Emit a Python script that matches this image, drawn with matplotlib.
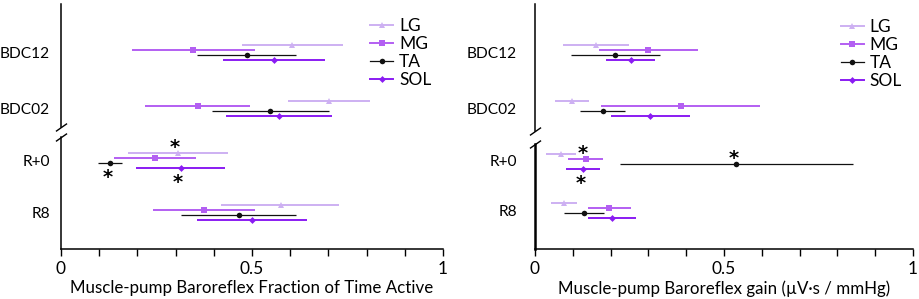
import matplotlib.pyplot as plt
from matplotlib.lines import Line2D

plt.rcParams['font.family'] = ['Lato', 'DejaVu Sans']

groups = ['BDC12', 'BDC02', 'R+0', 'R8']
series = ['LG', 'MG', 'TA', 'SOL']
colors = ['#cdb0f2', '#b35ff2', '#111111', '#8a1cf2']
markers = ['^', 's', 'o', 'D']

# rows: LG, MG, TA, SOL ; columns: BDC12, BDC02, R+0, R8
frac_mean = [[0.605, 0.702, 0.306, 0.575],
             [0.346, 0.358, 0.246, 0.375],
             [0.486, 0.548, 0.129, 0.466],
             [0.557, 0.571, 0.313, 0.501]]
frac_lo = [[0.473, 0.595, 0.175, 0.419],
           [0.187, 0.219, 0.139, 0.241],
           [0.357, 0.394, 0.098, 0.315],
           [0.424, 0.433, 0.196, 0.357]]
frac_hi = [[0.737, 0.808, 0.438, 0.729],
           [0.508, 0.496, 0.353, 0.507],
           [0.616, 0.702, 0.160, 0.616],
           [0.690, 0.710, 0.429, 0.644]]

gain_mean = [[0.161, 0.098, 0.069, 0.077],
             [0.300, 0.385, 0.134, 0.197],
             [0.212, 0.179, 0.533, 0.130],
             [0.253, 0.304, 0.127, 0.203]]
gain_lo = [[0.075, 0.053, 0.028, 0.042],
           [0.169, 0.175, 0.088, 0.140],
           [0.094, 0.118, 0.224, 0.078],
           [0.187, 0.200, 0.082, 0.140]]
gain_hi = [[0.248, 0.143, 0.109, 0.110],
           [0.432, 0.594, 0.180, 0.254],
           [0.330, 0.239, 0.842, 0.182],
           [0.318, 0.409, 0.173, 0.267]]

# (group, series, side) for the significance stars
frac_stars = [('R+0', 'LG', 'above'), ('R+0', 'TA', 'below'), ('R+0', 'SOL', 'below')]
gain_stars = [('R+0', 'MG', 'above'), ('R+0', 'SOL', 'below'), ('R+0', 'TA', 'above')]

W, H = 920, 299
fig = plt.figure(figsize=(W / 100, H / 100), dpi=100)


def px_axes(x0, x1, y0, y1):
    return fig.add_axes([x0 / W, 1 - y1 / H, (x1 - x0) / W, (y1 - y0) / H])


def draw_panel(x0, x1, top_px, bot_px, centers, mean, lo, hi, stars, xlabel, ypad):
    ax_top = px_axes(x0, x1, *top_px)
    ax_bot = px_axes(x0, x1, *bot_px)
    parts = [(ax_top, top_px, centers[:2], [0, 1]), (ax_bot, bot_px, centers[2:], [2, 3])]
    for ax, (y0, y1), (p0, p1), cols in parts:
        unit = p1 - p0
        step = 5 / unit
        for i in range(4):
            off = (i - 1.5) * step
            m = [mean[i][c] for c in cols]
            el = [mean[i][c] - lo[i][c] for c in cols]
            eh = [hi[i][c] - mean[i][c] for c in cols]
            ax.errorbar(m, [0 + off, 1 + off], xerr=[el, eh], fmt=markers[i], color=colors[i],
                        ms=4 if markers[i] != 'D' else 3.5, lw=0.9 if i == 2 else 1.4,
                        capsize=0, mew=0, zorder=3)
        for g, s, side in stars:
            gi = groups.index(g)
            if gi not in cols:
                continue
            si = series.index(s)
            yv = cols.index(gi) + (si - 1.5) * step
            ax.annotate('*', xy=(mean[si][gi], yv), xytext=(-2, 3.5 if side == 'above' else -10.5),
                        textcoords='offset points', ha='center', va='center',
                        fontsize=14, fontweight='bold', family='DejaVu Sans')
        ax.set_ylim((y1 - p0) / unit, -(p0 - y0) / unit)
        ax.set_xlim(0, 1)
        ax.set_yticks([0, 1])
        ax.set_yticklabels([groups[c] for c in cols])
        ax.tick_params(axis='y', length=0, labelsize=11.2, pad=ypad)
        for sp in ['top', 'right']:
            ax.spines[sp].set_visible(False)
        ax.spines['left'].set_linewidth(1.1)

    ax_top.spines['bottom'].set_visible(False)
    ax_top.tick_params(axis='x', which='both', bottom=False, labelbottom=False)

    ax_bot.spines['bottom'].set_linewidth(1.1)
    ax_bot.set_xticks([0, 0.5, 1])
    ax_bot.set_xticklabels(['0', '0.5', '1'])
    ax_bot.set_xticks([i / 10 for i in range(11)], minor=True)
    ax_bot.tick_params(axis='x', which='both', length=5, width=1, direction='out', labelsize=12.5, pad=4)
    ax_bot.set_xlabel(xlabel, fontsize=12.2, labelpad=2)

    brk = dict(marker=[(-1, -0.7), (1, 0.7)], markersize=8, linestyle='none', color='k',
               mec='k', mew=1, clip_on=False)
    ax_top.plot([0], [0], transform=ax_top.transAxes, **brk)
    ax_bot.plot([0], [1], transform=ax_bot.transAxes, **brk)

    handles = [Line2D([], [], color=colors[i], marker=markers[i], lw=0.9 if i == 2 else 1.4,
                      ms=4 if markers[i] != 'D' else 3.5, mew=0) for i in range(4)]
    ax_top.legend(handles, series, loc='upper left', bbox_to_anchor=(0.81, 0.885),
                  frameon=False, fontsize=12.5, handlelength=1.3, handletextpad=0.35,
                  labelspacing=0.12, borderpad=0, borderaxespad=0)
    return ax_top, ax_bot


draw_panel(61, 443, (4, 127), (137, 249), [52, 108, 160, 212],
           frac_mean, frac_lo, frac_hi, frac_stars,
           'Muscle-pump Baroreflex Fraction of Time Active', 8)
a_t, a_b = draw_panel(535, 913, (4, 131), (144, 249), [52, 109, 161, 210],
                      gain_mean, gain_lo, gain_hi, gain_stars,
                      'Muscle-pump Baroreflex gain (µV·s / mmHg)', 13)
a_b.spines['left'].set_linewidth(1.8)

fig.savefig('out.png', dpi=100)
